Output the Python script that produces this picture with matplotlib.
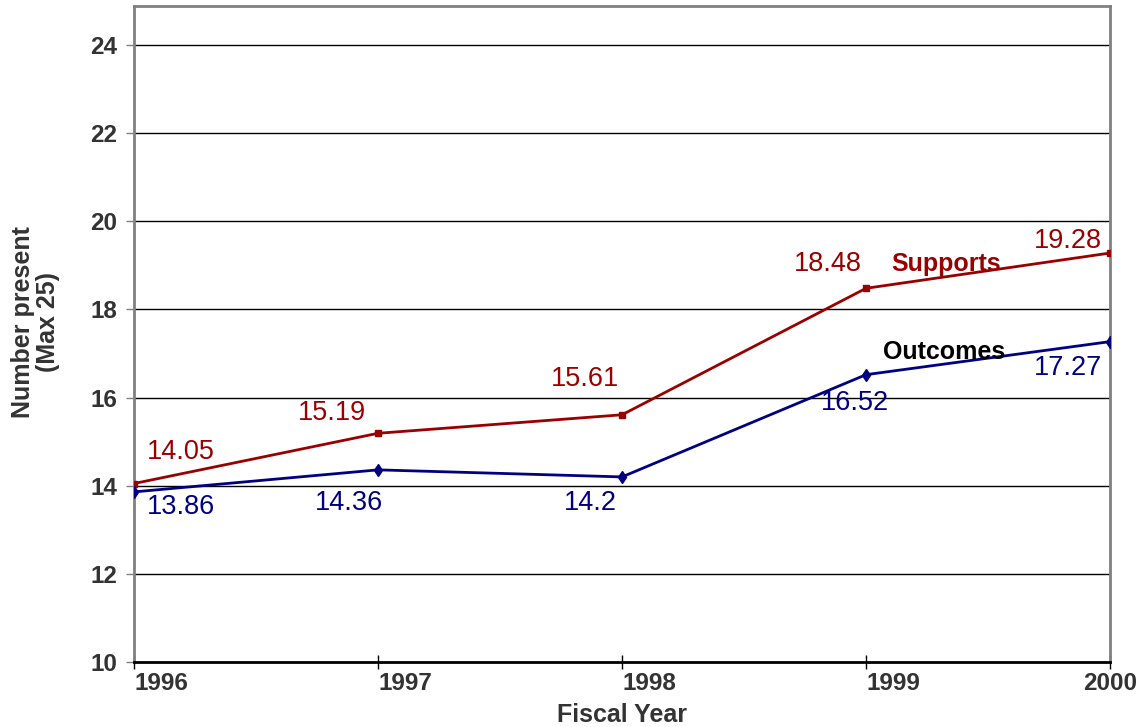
import matplotlib
matplotlib.use("Agg")
import matplotlib.pyplot as plt

plt.rcParams['font.family'] = ['Liberation Sans', 'DejaVu Sans']

years = [1996, 1997, 1998, 1999, 2000]
supports = [14.05, 15.19, 15.61, 18.48, 19.28]
outcomes = [13.86, 14.36, 14.2, 16.52, 17.27]
yticks = [10, 12, 14, 16, 18, 20, 22, 24]

red = '#990000'
navy = '#000080'
grey_txt = '#333333'

fig = plt.figure(figsize=(11.38, 7.27), dpi=100)
ax = fig.add_axes([0.1178, 0.0894, 0.8576, 0.9023])

ax.plot(years, supports, color=red, lw=2, marker='s', ms=5, zorder=3)
ax.plot(years, outcomes, color=navy, lw=2, marker='d', ms=6,
        mfc=navy, mec=navy, zorder=3)

# data labels, offsets in pixels from each point
sup_off = [(47, 32), (-46, 20), (-37, 36), (-38, 24), (-42, 12)]
out_off = [(47, -15), (-29, -33), (-32, -26), (-11, -28), (-42, -26)]
for x, y, off in zip(years, supports, sup_off):
    ax.annotate(f"{y:g}", (x, y), xytext=off, textcoords='offset pixels',
                ha='center', va='center', fontsize=19.5, color=red,
                annotation_clip=False)
for x, y, off in zip(years, outcomes, out_off):
    ax.annotate(f"{y:g}", (x, y), xytext=off, textcoords='offset pixels',
                ha='center', va='center', fontsize=19.5, color=navy,
                annotation_clip=False)

ax.text(1999.33, 19.03, "Supports", color=red, fontsize=18,
        fontweight='bold', ha='center', va='center')
ax.text(1999.32, 17.03, "Outcomes", color='black', fontsize=18,
        fontweight='bold', ha='center', va='center')

ax.set_xlim(1996, 2000)
ax.set_ylim(10, 24.885)
ax.set_yticks(yticks)
ax.set_xticks(years)
ax.set_xticklabels([str(y) for y in years])

for t in yticks[1:]:
    ax.axhline(t, color='black', lw=1, zorder=1)

ax.tick_params(axis='y', direction='out', length=6, width=1, color='#808080',
               labelsize=17.5, labelcolor=grey_txt, pad=6)
ax.tick_params(axis='x', direction='inout', length=10, width=1, color='black',
               labelsize=17.5, labelcolor=grey_txt, pad=2)
for lab in ax.get_yticklabels():
    lab.set_fontweight('bold')
xl = ax.get_xticklabels()
for i, lab in enumerate(xl):
    lab.set_fontweight('bold')
    lab.set_horizontalalignment('center' if i == len(xl) - 1 else 'left')

for side in ['left', 'right', 'top']:
    ax.spines[side].set_color('#808080')
    ax.spines[side].set_linewidth(2)
ax.spines['bottom'].set_color('black')
ax.spines['bottom'].set_linewidth(2)

ax.set_xlabel("Fiscal Year", fontsize=18, fontweight='bold', color=grey_txt,
              labelpad=6)
ax.set_ylabel("Number present\n(Max 25)", fontsize=18, fontweight='bold',
              color=grey_txt, linespacing=1.05)
ax.yaxis.set_label_coords(-0.076, 0.518)

fig.savefig("out.png", dpi=100)
